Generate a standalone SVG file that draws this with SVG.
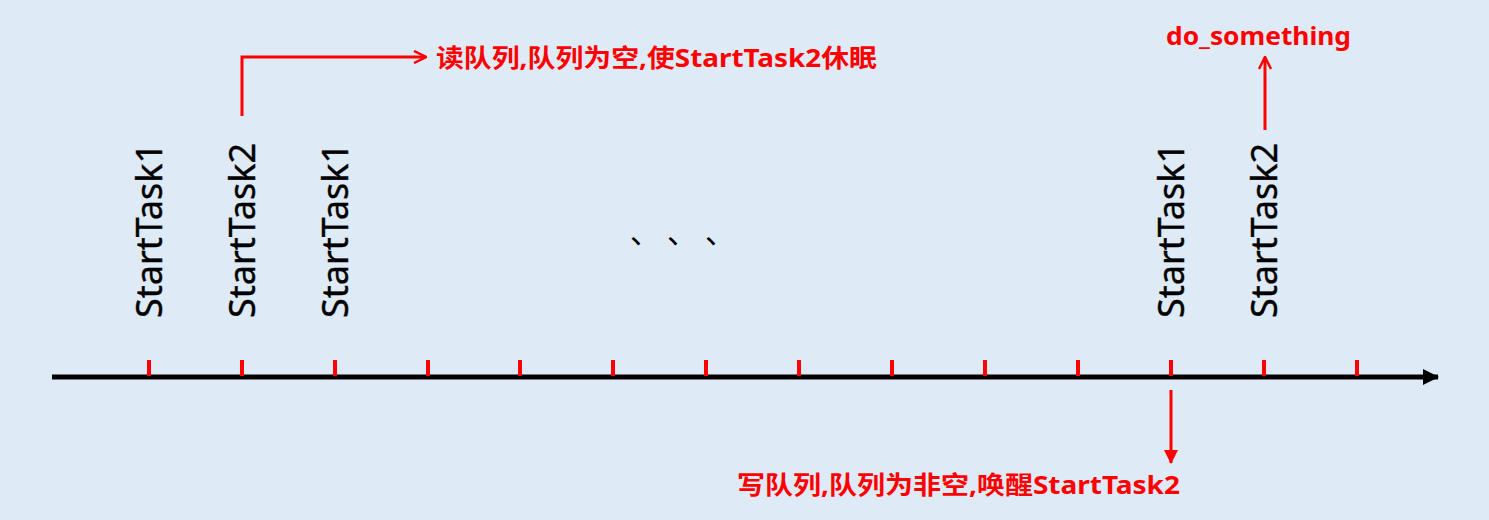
<svg xmlns="http://www.w3.org/2000/svg" width="1489" height="520" viewBox="0 0 1489 520">
<defs>
<style>
.task{font-family:"Noto Sans","Liberation Sans",sans-serif;font-size:36px;fill:#000;stroke:#000;stroke-width:0.4}
.lbl{font-family:"Noto Sans","Noto Sans CJK SC",sans-serif;font-size:25px;font-weight:bold;fill:#FF0000}
.tick{stroke:#FF0000;stroke-width:4}
.red{stroke:#FF0000;stroke-width:3;fill:none}
</style>
<marker id="open" viewBox="0 0 14 14" refX="13" refY="7" markerWidth="14" markerHeight="14" markerUnits="userSpaceOnUse" orient="auto">
<path d="M1,1 L13,7 L1,13" fill="none" stroke="#FF0000" stroke-width="2.5"/>
</marker>
<marker id="filled" viewBox="0 0 14 14" refX="13" refY="7" markerWidth="14" markerHeight="14" markerUnits="userSpaceOnUse" orient="auto">
<path d="M0,0 L14,7 L0,14 Z" fill="#FF0000"/>
</marker>
<marker id="black" viewBox="0 0 16 16" refX="15" refY="8" markerWidth="16" markerHeight="16" markerUnits="userSpaceOnUse" orient="auto">
<path d="M0,0 L16,8 L0,16 Z" fill="#000"/>
</marker>
</defs>
<rect width="1489" height="520" fill="#DEEAF6"/>
<g id="axis">
<line x1="52" y1="377" x2="1438" y2="377" stroke="#000" stroke-width="5" marker-end="url(#black)"/>
<line class="tick" x1="149" y1="360" x2="149" y2="376"/>
<line class="tick" x1="242" y1="360" x2="242" y2="376"/>
<line class="tick" x1="335" y1="360" x2="335" y2="376"/>
<line class="tick" x1="428" y1="360" x2="428" y2="376"/>
<line class="tick" x1="520" y1="360" x2="520" y2="376"/>
<line class="tick" x1="613" y1="360" x2="613" y2="376"/>
<line class="tick" x1="706" y1="360" x2="706" y2="376"/>
<line class="tick" x1="799" y1="360" x2="799" y2="376"/>
<line class="tick" x1="892" y1="360" x2="892" y2="376"/>
<line class="tick" x1="985" y1="360" x2="985" y2="376"/>
<line class="tick" x1="1078" y1="360" x2="1078" y2="376"/>
<line class="tick" x1="1171" y1="360" x2="1171" y2="376"/>
<line class="tick" x1="1264" y1="360" x2="1264" y2="376"/>
<line class="tick" x1="1357" y1="360" x2="1357" y2="376"/>
</g>
<g id="task1a"><text class="task" transform="translate(162,318) rotate(-90)" textLength="175" lengthAdjust="spacingAndGlyphs">StartTask1</text></g>
<g id="task2a"><text class="task" transform="translate(255,318) rotate(-90)" textLength="175" lengthAdjust="spacingAndGlyphs">StartTask2</text></g>
<g id="task1b"><text class="task" transform="translate(348,318) rotate(-90)" textLength="175" lengthAdjust="spacingAndGlyphs">StartTask1</text></g>
<g id="dots"><text font-family="Noto Sans CJK SC,sans-serif" font-size="30" fill="#000" x="630" y="243">、</text><text font-family="Noto Sans CJK SC,sans-serif" font-size="30" fill="#000" x="667" y="243">、</text><text font-family="Noto Sans CJK SC,sans-serif" font-size="30" fill="#000" x="705" y="243">、</text></g>
<g id="task1c"><text class="task" transform="translate(1184,318) rotate(-90)" textLength="175" lengthAdjust="spacingAndGlyphs">StartTask1</text></g>
<g id="task2b"><text class="task" transform="translate(1277,318) rotate(-90)" textLength="175" lengthAdjust="spacingAndGlyphs">StartTask2</text></g>
<g id="labelRead"><text class="lbl" x="436" y="67" textLength="441" lengthAdjust="spacingAndGlyphs">读队列,队列为空,使StartTask2休眠</text></g>
<g id="labelDo"><text class="lbl" x="1166" y="45" textLength="185" lengthAdjust="spacingAndGlyphs">do_something</text></g>
<g id="labelWrite"><text class="lbl" x="737" y="494" textLength="443" lengthAdjust="spacingAndGlyphs">写队列,队列为非空,唤醒StartTask2</text></g>
<g id="connectors">
<path class="red" d="M242,116 L242,57 L426,57" marker-end="url(#open)"/>
<path class="red" d="M1265,130 L1265,57" marker-end="url(#open)"/>
<path class="red" d="M1171,390 L1171,463" marker-end="url(#filled)"/>
</g>
</svg>
